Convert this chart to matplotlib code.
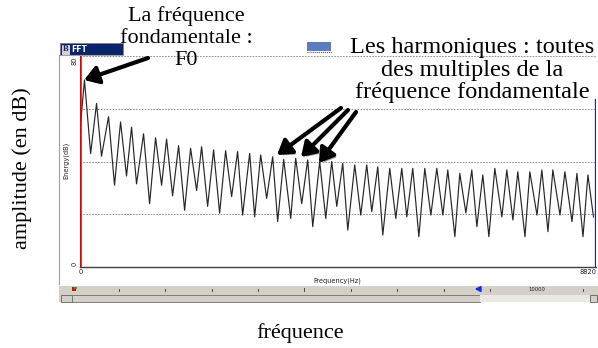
import numpy as np
import matplotlib.pyplot as plt
import matplotlib.patheffects as pe
from matplotlib.patches import Rectangle, Polygon

# Spectrum: harmonic peaks and the dips between them
peak_freq = [85, 291, 496, 701, 889, 1094, 1299, 1487, 1692, 1897,
             2085, 2290, 2495, 2700, 2906, 3094, 3299, 3487, 3692, 3897,
             4102, 4307, 4495, 4700, 4905, 5093, 5298, 5503, 5691, 5896,
             6101, 6289, 6494, 6699, 6887, 7092, 7297, 7485, 7690, 7895,
             8083, 8289, 8494, 8682]
peak_db = [70.9, 62, 57, 55, 53, 50.5, 49, 48.5, 46, 45,
           45.6, 44.4, 44.1, 43.8, 43.1, 42.5, 41.8, 40.8, 41.2, 40.6,
           40, 40, 39.3, 38.7, 38.7, 38, 37.4, 37.4, 37.4, 37.4,
           37.4, 36.8, 35.5, 36.8, 34.9, 37.4, 36.8, 36.1, 36.1, 36.8,
           36.8, 36.1, 35.5, 34.9]
trough_freq = [190, 376, 598, 803, 974, 1197, 1402, 1590, 1795, 2000,
               2188, 2393, 2598, 2786, 2991, 3196, 3384, 3607, 3795, 3983,
               4205, 4393, 4581, 4803, 4991, 5179, 5401, 5589, 5795, 6000,
               6205, 6410, 6598, 6786, 6991, 7213, 7401, 7607, 7812, 8000,
               8205, 8410, 8598]
trough_db = [43, 42, 31, 34.5, 31.5, 24, 31, 27, 21.5, 29,
             23, 20.4, 26.7, 19.7, 19, 26, 17.2, 18.4, 24, 15.3,
             18.4, 23, 14, 19.7, 21, 12.1, 18.4, 19, 11.5, 19.7,
             19.7, 11.5, 20.5, 15.3, 11.5, 19, 17.8, 11.5, 19.7, 13.4,
             19.7, 17.2, 11.5]
start_point = (17, 54)
end_point = (8777, 19)

grid_levels = [20, 40, 60, 80]
f_max = 8820
red_cursor = 10
blue_cursor = 8812

# ordered line: start, peak, dip, peak, dip, ... , last peak, end
xs = [start_point[0]]
ys = [start_point[1]]
for i in range(len(peak_freq)):
    xs.append(peak_freq[i])
    ys.append(peak_db[i])
    if i < len(trough_freq):
        xs.append(trough_freq[i])
        ys.append(trough_db[i])
xs.append(end_point[0])
ys.append(end_point[1])

W, H = 598, 348
fig = plt.figure(figsize=(W / 100, H / 100), dpi=100)
fig.patch.set_facecolor("white")


def box(x0, y0, x1, y1, z=-5, **kw):
    # rectangle given in screen pixels (top-left origin)
    r = Rectangle((x0 / W, 1 - y1 / H), (x1 - x0) / W, (y1 - y0) / H,
                  transform=fig.transFigure, zorder=z, **kw)
    fig.add_artist(r)
    return r


def px_line(x0, y0, x1, y1, **kw):
    fig.add_artist(plt.Line2D([x0 / W, x1 / W], [1 - y0 / H, 1 - y1 / H],
                              transform=fig.transFigure, **kw))


def px_text(x, y, s, **kw):
    fig.text(x / W, 1 - y / H, s, **kw)


# window frame
px_line(59, 55, 59, 284.5, color="#a0a0a0", lw=0.8)
px_line(59, 55, 123, 55, color="#a0a0a0", lw=0.8)
box(60, 43, 123, 55, facecolor="#0a246a", edgecolor="#808080", lw=0.6)
box(61.5, 44.5, 69, 53.5, z=-4, facecolor="#d4d0c8", edgecolor="white", lw=0.5)
px_text(65.2, 49.2, "B", fontsize=6, color="#0a246a", fontweight="bold",
        family="Liberation Serif", ha="center", va="center")
px_text(71, 49.2, "FFT", fontsize=5.5, color="white", fontweight="bold",
        family="DejaVu Sans", ha="left", va="center")
box(307, 42, 331, 51, facecolor="#5b7cc0", edgecolor="none")
px_line(307, 51.5, 331, 51.5, color="#404040", lw=0.7, ls=(0, (1, 1)))

# plot area
ax = fig.add_axes([79.5 / W, 1 - 267 / H, (596 - 79.5) / W, (267 - 56) / H])
ax.set_zorder(2)
ax.set_xlim(0, f_max)
ax.set_ylim(0, 80)
ax.patch.set_alpha(0)
for lev in grid_levels:
    ax.axhline(lev, color="#808080", lw=0.6, ls=(0, (2, 1.5)), zorder=1)
ax.plot(xs, ys, color="#262626", lw=0.85, zorder=3)
ax.axvline(red_cursor, color="#e00000", lw=1.8, zorder=4)
ax.axvline(blue_cursor, ymin=0, ymax=0.79, color="#1020d0", lw=1.6, zorder=4)
ax.spines["top"].set_visible(False)
ax.spines["right"].set_visible(False)
ax.spines["left"].set_color("#909090")
ax.spines["bottom"].set_color("#404040")
ax.spines["bottom"].set_linewidth(1.0)
ax.set_xticks([])
ax.set_yticks([])

small = dict(fontsize=4.8, color="#202020", family="DejaVu Sans")
px_text(74.5, 61, "80", rotation=90, ha="center", va="center", **small)
px_text(74.5, 264, "0", rotation=90, ha="center", va="center", **small)
px_text(66, 160, "Energy(dB)", rotation=90, ha="center", va="center", **small)
px_text(80.5, 272.5, "0", ha="center", va="center", **small)
px_text(588, 272.5, "8820", ha="center", va="center", **small)
px_text(337, 280.5, "Frequency(Hz)", ha="center", va="center", **small)

# ruler and scroll bar under the plot
box(59, 284.5, 598, 302, facecolor="#d4d0c8", edgecolor="none")
px_line(59, 284.5, 598, 284.5, color="white", lw=0.8)
ruler_ticks = [119, 165, 212, 258, 304, 351, 397, 444, 490, 583]
for t in ruler_ticks:
    tall = 3.5 if t == 304 else 2.5
    px_line(t, 291 - tall, t, 291, color="#303030", lw=0.6)
px_text(537, 289.5, "10000", fontsize=3.8, color="#202020",
        family="DejaVu Sans", ha="center", va="center")
box(72, 287, 76, 291, z=-4, facecolor="#d01010", edgecolor="none")
box(74, 286.5, 77, 289, z=-3, facecolor="#20a020", edgecolor="none")
fig.add_artist(Polygon([[476 / W, 1 - 289 / H], [481 / W, 1 - 286.5 / H],
                        [481 / W, 1 - 291.5 / H]], closed=True,
                       transform=fig.transFigure, color="#1030e0"))
box(61, 294.5, 72, 302, z=-4, facecolor="#d4d0c8", edgecolor="#606060", lw=0.6)
box(72, 294.5, 480, 302, z=-4, facecolor="#d4d0c8", edgecolor="#707070", lw=0.6)
box(480, 294.5, 590, 302, z=-4, facecolor="#ebe9e4", edgecolor="none")
box(590, 294.5, 597, 302, z=-4, facecolor="#d4d0c8", edgecolor="#606060", lw=0.6)

# annotations
serif = dict(family="Liberation Serif", color="black")
px_text(186, 6, "La fréquence\nfondamentale :\nF0", ha="center", va="top",
        fontsize=16, linespacing=1.22, **serif)
px_text(472, 37, "Les harmoniques : toutes\ndes multiples de la\nfréquence fondamentale",
        ha="center", va="top", fontsize=17.5, linespacing=1.1, **serif)
px_text(22, 168, "amplitude (en dB)", rotation=90, ha="center", va="center",
        fontsize=16, **serif)
px_text(300, 333, "fréquence", ha="center", va="center", fontsize=16, **serif)

arrows = [((148, 58), (84, 80)),
          ((341, 108), (277, 155)),
          ((348, 110), (301, 157)),
          ((356, 112), (319, 163))]
for tail, tip in arrows:
    a = ax.annotate("", xy=(tip[0], H - tip[1]), xycoords="figure pixels",
                    xytext=(tail[0], H - tail[1]), textcoords="figure pixels",
                    arrowprops=dict(arrowstyle="-|>,head_length=0.7,head_width=0.45",
                                    color="black", lw=3, mutation_scale=12,
                                    shrinkA=0, shrinkB=0),
                    annotation_clip=False)
    a.arrow_patch.set_path_effects([pe.SimplePatchShadow(offset=(1.8, -1.8),
                                                         shadow_rgbFace="#8a8a8a",
                                                         alpha=0.9),
                                    pe.Normal()])

fig.savefig("out.png", dpi=100)
